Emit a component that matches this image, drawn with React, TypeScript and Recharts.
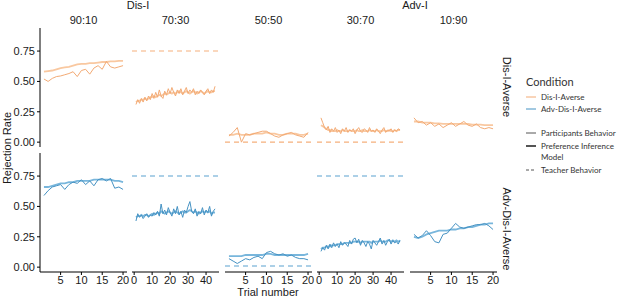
import { LineChart, Line, XAxis, YAxis, ReferenceLine } from "recharts";

// facet labels
const ratios = ["90:10", "70:30", "50:50", "30:70", "10:90"];
const conditions = ["Dis-I-Averse", "Adv-Dis-I-Averse"];
const yTicks = [0, 0.25, 0.5, 0.75];
const ticks20 = [5, 10, 15, 20];
const ticks45 = [0, 10, 20, 30, 40];

// Dis-I-Averse row
const disPart9010 = [0.52, 0.5, 0.525, 0.54, 0.545, 0.555, 0.565, 0.58, 0.54, 0.59, 0.6, 0.56, 0.61, 0.63, 0.6, 0.665, 0.62, 0.61, 0.62, 0.63];
const disModel9010 = [0.58, 0.585, 0.59, 0.6, 0.61, 0.615, 0.62, 0.63, 0.64, 0.645, 0.645, 0.65, 0.65, 0.655, 0.66, 0.66, 0.665, 0.665, 0.67, 0.67];
const disPart7030 = [0.31, 0.35, 0.32, 0.36, 0.33, 0.37, 0.34, 0.38, 0.35, 0.4, 0.36, 0.41, 0.37, 0.43, 0.38, 0.36, 0.42, 0.39, 0.44, 0.4, 0.45, 0.41, 0.38, 0.43, 0.4, 0.44, 0.39, 0.42, 0.45, 0.4, 0.43, 0.41, 0.44, 0.39, 0.42, 0.4, 0.43, 0.41, 0.39, 0.42, 0.44, 0.4, 0.43, 0.41, 0.46];
const disModel7030 = [0.33, 0.34, 0.34, 0.35, 0.35, 0.36, 0.35, 0.36, 0.37, 0.37, 0.38, 0.37, 0.38, 0.39, 0.38, 0.39, 0.4, 0.39, 0.4, 0.41, 0.4, 0.41, 0.4, 0.41, 0.42, 0.41, 0.4, 0.41, 0.42, 0.41, 0.4, 0.41, 0.42, 0.41, 0.4, 0.41, 0.42, 0.41, 0.4, 0.41, 0.42, 0.41, 0.41, 0.42, 0.42];
const disPart5050 = [0.05, 0.08, 0.12, 0.0, 0.07, 0.06, 0.07, 0.08, 0.09, 0.09, 0.07, 0.05, 0.04, 0.06, 0.07, 0.08, 0.06, 0.05, 0.04, 0.08];
const disModel5050 = [0.06, 0.06, 0.07, 0.06, 0.06, 0.06, 0.07, 0.07, 0.07, 0.08, 0.07, 0.07, 0.06, 0.06, 0.07, 0.07, 0.07, 0.06, 0.06, 0.07];
const disPart3070 = [0.2, 0.16, 0.12, 0.1, 0.13, 0.08, 0.11, 0.09, 0.12, 0.08, 0.1, 0.07, 0.11, 0.09, 0.12, 0.08, 0.1, 0.09, 0.11, 0.07, 0.1, 0.12, 0.09, 0.08, 0.11, 0.1, 0.08, 0.12, 0.09, 0.1, 0.08, 0.11, 0.09, 0.07, 0.1, 0.12, 0.08, 0.1, 0.09, 0.11, 0.08, 0.1, 0.09, 0.11, 0.1];
const disModel3070 = [0.14, 0.13, 0.12, 0.11, 0.1, 0.1, 0.09, 0.09, 0.09, 0.1, 0.09, 0.09, 0.1, 0.09, 0.09, 0.09, 0.1, 0.09, 0.09, 0.09, 0.1, 0.09, 0.09, 0.1, 0.09, 0.09, 0.09, 0.1, 0.09, 0.09, 0.09, 0.1, 0.09, 0.09, 0.09, 0.1, 0.09, 0.09, 0.1, 0.09, 0.09, 0.1, 0.09, 0.1, 0.1];
const disPart1090 = [0.2, 0.16, 0.17, 0.14, 0.16, 0.13, 0.15, 0.12, 0.14, 0.16, 0.13, 0.15, 0.17, 0.14, 0.13, 0.15, 0.12, 0.11, 0.12, 0.11];
const disModel1090 = [0.17, 0.17, 0.16, 0.16, 0.16, 0.155, 0.155, 0.15, 0.15, 0.15, 0.15, 0.15, 0.15, 0.15, 0.145, 0.145, 0.145, 0.14, 0.14, 0.14];
const disTeacher = [null, 0.75, 0, 0, null];

// Adv-Dis-I-Averse row
const advPart9010 = [0.59, 0.63, 0.66, 0.67, 0.68, 0.64, 0.68, 0.7, 0.69, 0.72, 0.68, 0.71, 0.67, 0.72, 0.73, 0.71, 0.73, 0.65, 0.66, 0.64];
const advModel9010 = [0.66, 0.66, 0.67, 0.68, 0.69, 0.69, 0.7, 0.7, 0.71, 0.71, 0.71, 0.71, 0.72, 0.72, 0.72, 0.72, 0.72, 0.71, 0.71, 0.7];
const advPart7030 = [0.38, 0.44, 0.41, 0.43, 0.4, 0.42, 0.44, 0.41, 0.43, 0.42, 0.45, 0.43, 0.46, 0.42, 0.52, 0.44, 0.47, 0.43, 0.49, 0.45, 0.42, 0.48, 0.44, 0.5, 0.43, 0.46, 0.41, 0.47, 0.45, 0.5, 0.54, 0.46, 0.44, 0.48, 0.42, 0.46, 0.44, 0.49, 0.43, 0.47, 0.45, 0.5, 0.42, 0.46, 0.48];
const advModel7030 = [0.41, 0.42, 0.42, 0.43, 0.42, 0.43, 0.43, 0.42, 0.43, 0.44, 0.43, 0.44, 0.45, 0.44, 0.46, 0.45, 0.44, 0.45, 0.46, 0.45, 0.44, 0.45, 0.46, 0.45, 0.44, 0.45, 0.46, 0.45, 0.45, 0.46, 0.47, 0.46, 0.45, 0.46, 0.45, 0.44, 0.45, 0.46, 0.45, 0.46, 0.45, 0.46, 0.44, 0.45, 0.45];
const advPart5050 = [0.07, 0.05, 0.03, 0.05, 0.07, 0.06, 0.08, 0.09, 0.07, 0.12, 0.13, 0.11, 0.1, 0.11, 0.09, 0.1, 0.08, 0.07, 0.07, 0.06];
const advModel5050 = [0.09, 0.09, 0.09, 0.09, 0.1, 0.1, 0.1, 0.1, 0.1, 0.11, 0.11, 0.1, 0.1, 0.1, 0.1, 0.1, 0.1, 0.1, 0.1, 0.11];
const advPart3070 = [0.13, 0.16, 0.14, 0.18, 0.15, 0.19, 0.16, 0.2, 0.17, 0.19, 0.16, 0.21, 0.18, 0.2, 0.19, 0.17, 0.22, 0.19, 0.23, 0.24, 0.2, 0.23, 0.18, 0.22, 0.2, 0.17, 0.21, 0.19, 0.15, 0.22, 0.2, 0.18, 0.21, 0.24, 0.19, 0.22, 0.18, 0.21, 0.23, 0.19, 0.22, 0.2, 0.21, 0.19, 0.22];
const advModel3070 = [0.15, 0.16, 0.16, 0.17, 0.17, 0.17, 0.18, 0.18, 0.18, 0.19, 0.19, 0.19, 0.19, 0.2, 0.2, 0.2, 0.2, 0.2, 0.21, 0.21, 0.21, 0.21, 0.2, 0.21, 0.21, 0.21, 0.21, 0.21, 0.2, 0.21, 0.21, 0.21, 0.21, 0.22, 0.21, 0.21, 0.21, 0.22, 0.22, 0.21, 0.22, 0.21, 0.22, 0.21, 0.22];
const advPart1090 = [0.27, 0.24, 0.26, 0.3, 0.26, 0.21, 0.2, 0.27, 0.28, 0.32, 0.36, 0.33, 0.32, 0.33, 0.34, 0.35, 0.35, 0.36, 0.34, 0.31];
const advModel1090 = [0.25, 0.24, 0.25, 0.27, 0.28, 0.29, 0.3, 0.3, 0.3, 0.31, 0.31, 0.32, 0.32, 0.33, 0.33, 0.34, 0.35, 0.35, 0.36, 0.36];
const advTeacher = [null, 0.75, 0.01, 0.75, null];

const partRows = [
  [disPart9010, disPart7030, disPart5050, disPart3070, disPart1090],
  [advPart9010, advPart7030, advPart5050, advPart3070, advPart1090],
];
const modelRows = [
  [disModel9010, disModel7030, disModel5050, disModel3070, disModel1090],
  [advModel9010, advModel7030, advModel5050, advModel3070, advModel1090],
];
const teacherRows = [disTeacher, advTeacher];

const colors = [
  { part: "#F3AA74", model: "#F9C8A0", teacher: "#F5B07C" },
  { part: "#4592C3", model: "#78B6DC", teacher: "#5AA2D0" },
];

const AXIS_FONT = "'Liberation Sans', Arial, sans-serif";
const LEGEND_FONT = "Lato, 'Open Sans', sans-serif";
const plotLeft = [40, 132, 225, 317, 410];
const PLOT_W = 87;
const PLOT_H = 119;
const rowTop = [28, 153];

function Panel({ row, col }: { row: number; col: number }) {
  const part = partRows[row][col];
  const model = modelRows[row][col];
  const teacher = teacherRows[row][col];
  const data = part.map((p, i) => ({ trial: i + 1, participants: p, model: model[i] }));
  const long = part.length > 20;
  const showY = col === 0;
  const showX = row === 1;
  const yW = showY ? 40 : 0;
  const xH = showX ? 24 : 0;
  const c = colors[row];
  return (
    <div style={{ position: "absolute", left: plotLeft[col] - yW, top: rowTop[row] }}>
      <LineChart
        width={PLOT_W + yW}
        height={PLOT_H + xH}
        data={data}
        margin={{ top: 0, right: 0, bottom: 0, left: 0 }}
      >
        <XAxis
          type="number"
          dataKey="trial"
          domain={long ? [-1.2, 47.2] : [0.05, 20.95]}
          ticks={long ? ticks45 : ticks20}
          interval={0}
          allowDataOverflow
          hide={!showX}
          height={xH}
          tickSize={3}
          tickMargin={1}
          axisLine={{ stroke: "#000", strokeWidth: 1 }}
          tickLine={{ stroke: "#000" }}
          tick={{ fontSize: 11, fill: "#1a1a1a", fontFamily: AXIS_FONT }}
        />
        <YAxis
          type="number"
          domain={[-0.04, 0.94]}
          ticks={yTicks}
          interval={0}
          allowDataOverflow
          hide={!showY}
          width={yW}
          tickSize={3}
          tickFormatter={(v: number) => v.toFixed(2)}
          axisLine={{ stroke: "#000", strokeWidth: 1 }}
          tickLine={{ stroke: "#000" }}
          tick={{ fontSize: 11, fill: "#1a1a1a", fontFamily: AXIS_FONT }}
        />
        {teacher !== null && (
          <ReferenceLine y={teacher} stroke={c.teacher} strokeWidth={1.1} strokeDasharray="5 4" />
        )}
        <Line
          dataKey="model"
          type="linear"
          stroke={c.model}
          strokeWidth={1.8}
          dot={false}
          isAnimationActive={false}
        />
        <Line
          dataKey="participants"
          type="linear"
          stroke={c.part}
          strokeWidth={1}
          dot={false}
          isAnimationActive={false}
        />
      </LineChart>
    </div>
  );
}

export default function App() {
  const panels = [];
  for (let r = 0; r < 2; r++) {
    for (let c = 0; c < 5; c++) panels.push(<Panel key={`${r}-${c}`} row={r} col={c} />);
  }
  return (
    <div style={{ position: "fixed", left: 0, top: 0, width: 617, height: 296, background: "#fff", overflow: "hidden" }}>
      <style>{".recharts-surface, .recharts-wrapper { overflow: visible !important; }"}</style>
      {panels}
      <svg width={617} height={296} style={{ position: "absolute", left: 0, top: 0, pointerEvents: "none" }}>
        <g fontFamily={AXIS_FONT} fill="#1a1a1a" fontSize={11}>
          <text x={138} y={9} textAnchor="middle">Dis-I</text>
          <text x={415} y={9} textAnchor="middle">Adv-I</text>
          {ratios.map((r, i) => (
            <text key={r} x={plotLeft[i] + PLOT_W / 2} y={24} textAnchor="middle">{r}</text>
          ))}
          <text x={268} y={295.5} textAnchor="middle">Trial number</text>
          <text transform="translate(11,148) rotate(-90)" textAnchor="middle">Rejection Rate</text>
          <text transform="translate(503,87) rotate(90)" textAnchor="middle">{conditions[0]}</text>
          <text transform="translate(503,229) rotate(90)" textAnchor="middle">{conditions[1]}</text>
        </g>
        <g fontFamily={LEGEND_FONT} fill="#333">
          <text x={526} y={86} fontSize={11}>Condition</text>
          <line x1={526} x2={536} y1={97} y2={97} stroke={colors[0].part} strokeWidth={1} />
          <text x={541} y={100} fontSize={8}>{conditions[0]}</text>
          <line x1={526} x2={536} y1={109} y2={109} stroke={colors[1].part} strokeWidth={1} />
          <text x={541} y={112} fontSize={8}>{conditions[1]}</text>
          <line x1={526} x2={536} y1={133} y2={133} stroke="#555" strokeWidth={1} />
          <text x={541} y={136} fontSize={8}>Participants Behavior</text>
          <line x1={526} x2={536} y1={146} y2={146} stroke="#555" strokeWidth={2} />
          <text x={541} y={149} fontSize={8}>Preference Inference</text>
          <text x={541} y={160} fontSize={8}>Model</text>
          <line x1={526} x2={536} y1={170} y2={170} stroke="#555" strokeWidth={1} strokeDasharray="3 2" />
          <text x={541} y={173} fontSize={8}>Teacher Behavior</text>
        </g>
      </svg>
    </div>
  );
}
